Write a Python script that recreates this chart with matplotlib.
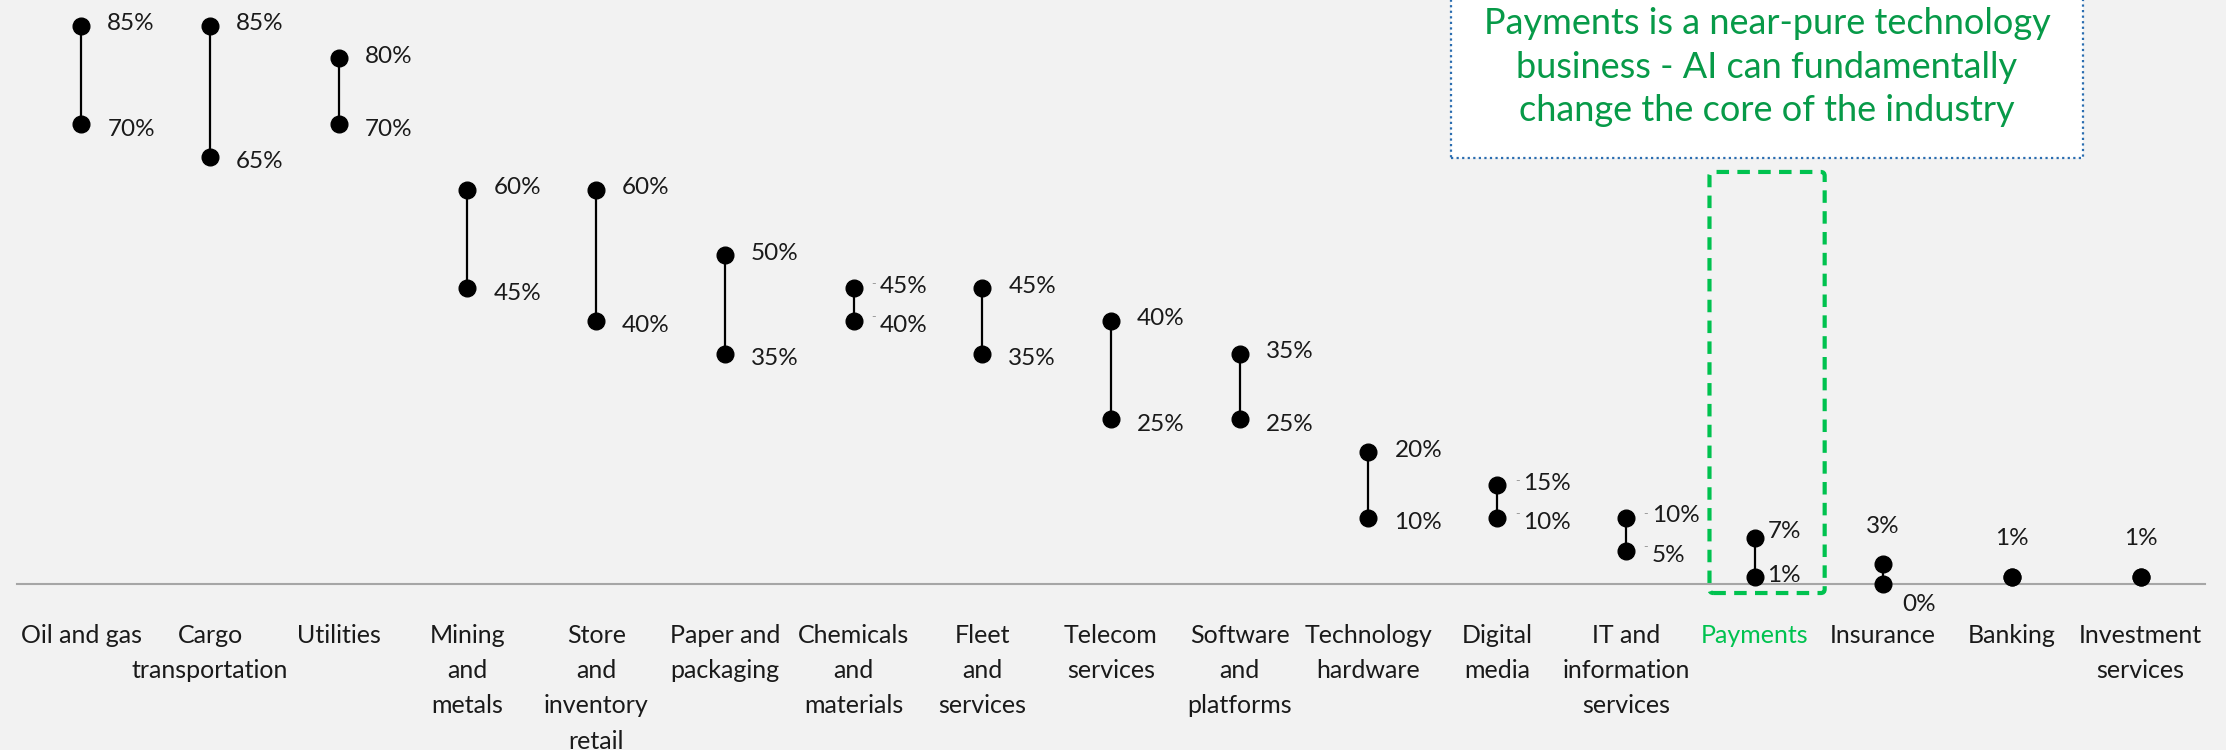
import matplotlib.pyplot as plt
from matplotlib.patches import Rectangle, FancyBboxPatch
import numpy as np

plt.rcParams['font.family'] = ['Lato', 'DejaVu Sans']

categories = ["Oil and gas", "Cargo\ntransportation", "Utilities", "Mining\nand\nmetals",
              "Store\nand\ninventory\nretail", "Paper and\npackaging", "Chemicals\nand\nmaterials",
              "Fleet\nand\nservices", "Telecom\nservices", "Software\nand\nplatforms",
              "Technology\nhardware", "Digital\nmedia", "IT and\ninformation\nservices",
              "Payments", "Insurance", "Banking", "Investment\nservices"]
low = [70, 65, 70, 45, 40, 35, 40, 35, 25, 25, 10, 10, 5, 1, 0, 1, 1]
high = [85, 85, 80, 60, 60, 50, 45, 45, 40, 35, 20, 15, 10, 7, 3, 1, 1]
highlight = "Payments"
note = "Payments is a near-pure technology\nbusiness - AI can fundamentally\nchange the core of the industry"

BG = '#f2f2f2'
GREEN_BOX = '#00c24f'
GREEN_TXT = '#079a48'
TXT = '#1a1a1a'

fig = plt.figure(figsize=(22.26, 7.5), dpi=100, facecolor=BG)
ax = fig.add_axes([17 / 2226, 1 - 583.5 / 750, 2188 / 2226, 583.5 / 750])
ax.set_facecolor(BG)

x = np.arange(len(categories))
ax.vlines(x, low, high, color='black', lw=1.6, zorder=3)
ax.plot(x, low, 'o', color='black', ms=12, zorder=4, clip_on=False)
ax.plot(x, high, 'o', color='black', ms=12, zorder=4, clip_on=False)

px = 0.72  # points per pixel at dpi 100


def label(i, v, dx, dy, ha='left'):
    ax.annotate(f"{v}%", (i, v), xytext=(dx * px, dy * px), textcoords='offset points',
                ha=ha, va='center', fontsize=17.5, color=TXT)


for i, cat in enumerate(categories):
    lo, hi = low[i], high[i]
    if lo == hi:
        label(i, hi, 0, 38, 'center')
    elif cat == "Insurance":
        label(i, hi, 0, 37, 'center')
        label(i, lo, 36, -21, 'center')
    elif cat == "Payments":
        label(i, hi, 13, 6)
        label(i, lo, 13, 1)
    else:
        label(i, hi, 26, 2)
        label(i, lo, 26, -5)
        # small leader dashes where the two labels sit close together
        if hi - lo <= 5:
            for v in (hi, lo):
                ax.annotate("-", (i, v), xytext=(20 * px, 4 * px), textcoords='offset points',
                            ha='center', va='center', fontsize=9, color='#9a9a9a')

ax.set_xlim(-0.5, 16.5)
ax.set_ylim(0, 88.9)
for s in ['top', 'right', 'left']:
    ax.spines[s].set_visible(False)
ax.spines['bottom'].set_color('#a6a6a6')
ax.spines['bottom'].set_linewidth(1.5)
ax.set_yticks([])
ax.set_xticks(x)
ax.set_xticklabels(categories, fontsize=18, linespacing=1.65, color=TXT)
ax.tick_params(axis='x', length=0, pad=29)
for lbl in ax.get_xticklabels():
    if lbl.get_text() == highlight:
        lbl.set_color(GREEN_BOX)

# dashed highlight around Payments
hi_idx = categories.index(highlight)
ax.add_patch(FancyBboxPatch((hi_idx - 0.35, -1.45), 0.895, 64.15,
                            boxstyle='round,pad=0,rounding_size=0.03',
                            fill=False, ec=GREEN_BOX, lw=3, ls=(0, (3, 2)),
                            clip_on=False, zorder=2, mutation_aspect=20))

# callout box at top right
fig.patches.append(Rectangle((1451 / 2226, 1 - 158 / 750), 632 / 2226, 0.3,
                             transform=fig.transFigure, fc='white', ec='#2a6db0',
                             lw=1.6, ls=(0, (1, 1.5)), zorder=5))
fig.text(1767 / 2226, 1 - 67 / 750, note, ha='center', va='center', fontsize=26,
         color=GREEN_TXT, linespacing=1.38, zorder=6)

fig.savefig("out.png", dpi=100, facecolor=BG)
